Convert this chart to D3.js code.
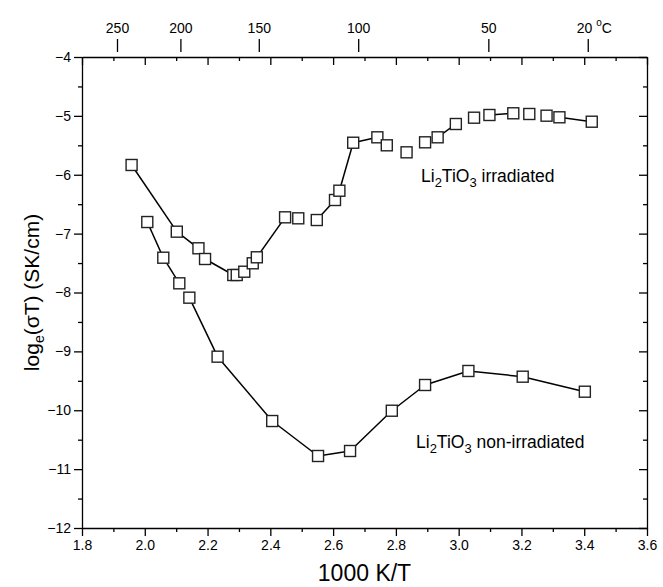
<!DOCTYPE html>
<html lang="en">
<head>
<meta charset="UTF-8">
<title>Li2TiO3 conductivity</title>
<script src="https://d3js.org/d3.v7.min.js"></script>
<style>
  body { margin: 0; background: #fff; }
  svg { display: block; font-family: "Liberation Sans", Arial, sans-serif; }
  .axis path, .axis line { stroke: #000; stroke-width: 1.3; }
  .axis text { font-family: "Liberation Sans", Arial, sans-serif; font-size: 14px; fill: #000; }
  .line { fill: none; stroke: #000; stroke-width: 1.5; }
  .marker { fill: #fff; stroke: #222; stroke-width: 1.4; }
  .title { font-size: 23px; fill: #000; }
  .ytitle { font-size: 21px; fill: #000; }
  .note { font-size: 17.5px; fill: #000; }
</style>
</head>
<body>
<svg width="663" height="587"></svg>
<script>
// irradiated sample
const irrX = [1.958, 2.102, 2.171, 2.192, 2.282, 2.293, 2.317, 2.344, 2.357, 2.447, 2.489, 2.548, 2.606, 2.620,
              2.664, 2.741, 2.771, 2.834, 2.893, 2.933, 2.991, 3.049, 3.098, 3.174, 3.225, 3.280, 3.321, 3.424];
const irrY = [-5.834, -6.967, -7.249, -7.431, -7.703, -7.703, -7.647, -7.504, -7.402, -6.723, -6.740, -6.769, -6.429, -6.271,
              -5.456, -5.364, -5.500, -5.619, -5.449, -5.364, -5.138, -5.031, -4.985, -4.956, -4.968, -4.997, -5.024, -5.099];
// non-irradiated sample
const nonX = [2.008, 2.059, 2.110, 2.142, 2.232, 2.406, 2.552, 2.654, 2.787, 2.893, 3.031, 3.204, 3.402];
const nonY = [-6.803, -7.409, -7.844, -8.088, -9.090, -10.183, -10.777, -10.692, -10.008, -9.571, -9.333, -9.430, -9.685];

const xMajor = [1.8, 2.0, 2.2, 2.4, 2.6, 2.8, 3.0, 3.2, 3.4, 3.6];
const xMinor = [1.9, 2.1, 2.3, 2.5, 2.7, 2.9, 3.1, 3.3, 3.5];
const yMajor = [-12, -11, -10, -9, -8, -7, -6, -5, -4];
const yMinor = [-11.5, -10.5, -9.5, -8.5, -7.5, -6.5, -5.5, -4.5];
const tempC = [250, 200, 150, 100, 50, 20];

const svg = d3.select("svg");
const pLeft = 82, pRight = 647, pTop = 57, pBottom = 528;

const x = d3.scaleLinear().domain([1.8, 3.6]).range([pLeft, pRight]);
const y = d3.scaleLinear().domain([-12, -4]).range([pBottom, pTop]);

// bottom axis (outward ticks)
svg.append("g").attr("class", "axis")
    .attr("transform", `translate(0,${pBottom})`)
    .call(d3.axisBottom(x).tickValues(xMajor).tickFormat(d3.format(".1f"))
        .tickSize(8).tickSizeOuter(0).tickPadding(4));
svg.append("g").attr("class", "axis")
    .attr("transform", `translate(0,${pBottom})`)
    .call(d3.axisBottom(x).tickValues(xMinor).tickFormat("").tickSize(4))
    .call(g => g.select(".domain").remove());

// top frame (inward ticks)
svg.append("g").attr("class", "axis")
    .attr("transform", `translate(0,${pTop})`)
    .call(d3.axisBottom(x).tickValues(xMajor).tickFormat("").tickSize(8).tickSizeOuter(0));
svg.append("g").attr("class", "axis")
    .attr("transform", `translate(0,${pTop})`)
    .call(d3.axisBottom(x).tickValues(xMinor).tickFormat("").tickSize(4))
    .call(g => g.select(".domain").remove());

// left axis (outward ticks)
svg.append("g").attr("class", "axis")
    .attr("transform", `translate(${pLeft},0)`)
    .call(d3.axisLeft(y).tickValues(yMajor).tickFormat(d3.format("d"))
        .tickSize(8).tickSizeOuter(0).tickPadding(3));
svg.append("g").attr("class", "axis")
    .attr("transform", `translate(${pLeft},0)`)
    .call(d3.axisLeft(y).tickValues(yMinor).tickFormat("").tickSize(4))
    .call(g => g.select(".domain").remove());

// right frame (inward ticks)
svg.append("g").attr("class", "axis")
    .attr("transform", `translate(${pRight},0)`)
    .call(d3.axisLeft(y).tickValues(yMajor).tickFormat("").tickSize(8).tickSizeOuter(0));
svg.append("g").attr("class", "axis")
    .attr("transform", `translate(${pRight},0)`)
    .call(d3.axisLeft(y).tickValues(yMinor).tickFormat("").tickSize(4))
    .call(g => g.select(".domain").remove());

// temperature scale on top, 1000/(T+273.15)
const tempAxis = svg.append("g").attr("class", "axis temp")
    .attr("transform", `translate(0,${pTop - 5})`)
    .call(d3.axisTop(x).tickValues(tempC.map(t => 1000 / (t + 273.15)))
        .tickFormat((d, i) => tempC[i]).tickSize(13).tickPadding(6))
    .call(g => g.select(".domain").remove());
tempAxis.selectAll(".tick line").attr("stroke-width", 1);
tempAxis.selectAll(".tick text").filter((d, i) => i === tempC.length - 1)
    .each(function() {
        const t = d3.select(this).text(null).attr("x", 6);
        t.append("tspan").text(tempC[tempC.length - 1] + " ");
        t.append("tspan").attr("dy", -7).attr("font-size", 10).text("o");
        t.append("tspan").attr("dy", 7).text("C");
    });

// series: consecutive points are joined unless they sit too close together
function drawSeries(xs, ys) {
    const pts = xs.map((d, i) => [x(d), y(ys[i])]);
    const line = d3.line();
    for (let i = 0; i < pts.length - 1; i++) {
        const a = pts[i], b = pts[i + 1];
        if (Math.hypot(b[0] - a[0], b[1] - a[1]) < 22) continue;
        svg.append("path").attr("class", "line").attr("d", line([a, b]));
    }
    svg.append("g").selectAll("rect")
        .data(xs.map((d, i) => ({x: d, y: ys[i]})))
        .join("rect")
        .attr("class", "marker")
        .attr("x", d => x(d.x) - 5.5)
        .attr("y", d => y(d.y) - 5.5)
        .attr("width", 11)
        .attr("height", 11);
}
drawSeries(nonX, nonY);
drawSeries(irrX, irrY);

// annotations
function formula(xp, yp, rest) {
    const t = svg.append("text").attr("class", "note").attr("x", xp).attr("y", yp);
    t.append("tspan").text("Li");
    t.append("tspan").attr("dy", 5).attr("font-size", 13).text("2");
    t.append("tspan").attr("dy", -5).text("TiO");
    t.append("tspan").attr("dy", 5).attr("font-size", 13).text("3");
    t.append("tspan").attr("dy", -5).text(rest);
}
formula(421, 182, " irradiated");
formula(416, 448, " non-irradiated");

// axis titles
svg.append("text").attr("class", "title")
    .attr("x", (pLeft + pRight) / 2).attr("y", 581)
    .attr("text-anchor", "middle")
    .text("1000 K/T");

const yt = svg.append("text").attr("class", "ytitle")
    .attr("transform", `translate(39,${(pTop + pBottom) / 2}) rotate(-90)`)
    .attr("text-anchor", "middle");
yt.append("tspan").text("log");
yt.append("tspan").attr("dy", 5).attr("font-size", 14).text("e");
yt.append("tspan").attr("dy", -5).text("(σT) (SK/cm)");
</script>
</body>
</html>
